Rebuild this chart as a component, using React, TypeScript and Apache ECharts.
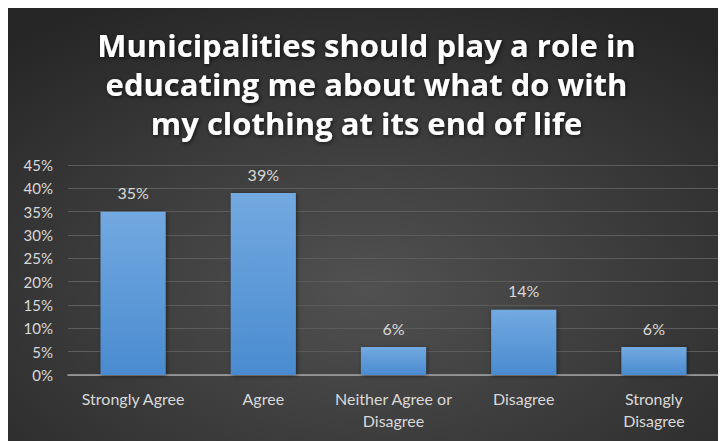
import React, { useEffect, useRef } from "react";
import * as echarts from "echarts";

const titleText = "Municipalities should play a role in\neducating me about what do with\nmy clothing at its end of life";
const categories = ["Strongly Agree", "Agree", "Neither Agree or\nDisagree", "Disagree", "Strongly\nDisagree"];
const values = [0.35, 0.39, 0.06, 0.14, 0.06];
const yMin = 0;
const yMax = 0.45;
const yStep = 0.05;

const FONT = "Lato, 'Open Sans', sans-serif";
const TITLE_FONT = "'Open Sans', Lato, sans-serif";

export default function App() {
  const ref = useRef<HTMLDivElement>(null);
  useEffect(() => {
    if (!ref.current) return;
    const chart = echarts.init(ref.current, null, { renderer: "svg" });
    chart.setOption({
      animation: false,
      backgroundColor: {
        type: "radial",
        x: 0.5,
        y: 0.65,
        r: 0.75,
        colorStops: [
          { offset: 0, color: "#515151" },
          { offset: 1, color: "#262626" },
        ],
      },
      title: {
        text: titleText,
        left: "center",
        top: 13,
        textStyle: {
          color: "#ffffff",
          fontFamily: TITLE_FONT,
          fontWeight: "bold",
          fontSize: 31,
          lineHeight: 39,
          textShadowColor: "rgba(0,0,0,0.7)",
          textShadowBlur: 4,
          textShadowOffsetX: 1,
          textShadowOffsetY: 1,
        },
      },
      grid: { left: 61, right: 7, top: 158, bottom: 66, containLabel: false },
      xAxis: {
        type: "category",
        data: categories,
        axisLine: { show: true, lineStyle: { color: "#a6a6a6", width: 1.5 } },
        axisTick: { show: false },
        axisLabel: {
          color: "#d9d9d9",
          fontFamily: FONT,
          fontSize: 16,
          lineHeight: 22,
          margin: 12,
          interval: 0,
        },
      },
      yAxis: {
        type: "value",
        min: yMin,
        max: yMax,
        interval: yStep,
        axisLine: { show: false },
        axisTick: { show: false },
        splitLine: { lineStyle: { color: "#5c5c5c", width: 1 } },
        axisLabel: {
          color: "#d9d9d9",
          fontFamily: FONT,
          fontSize: 15,
          margin: 15,
          formatter: (v: number) => Math.round(v * 100) + "%",
        },
      },
      series: [
        {
          type: "bar",
          data: values,
          barWidth: "50%",
          itemStyle: {
            color: {
              type: "linear",
              x: 0,
              y: 0,
              x2: 0,
              y2: 1,
              colorStops: [
                { offset: 0, color: "#72a9e0" },
                { offset: 1, color: "#4a8bd0" },
              ],
            },
            shadowColor: "rgba(0,0,0,0.5)",
            shadowBlur: 4,
            shadowOffsetX: 1,
            shadowOffsetY: 1,
          },
          label: {
            show: true,
            position: "top",
            distance: 11,
            color: "#d9d9d9",
            fontFamily: FONT,
            fontSize: 16,
            formatter: (p: any) => Math.round(p.value * 100) + "%",
          },
        },
      ],
    });
    return () => chart.dispose();
  }, []);
  return (
    <div
      ref={ref}
      style={{ width: 719, height: 434, marginLeft: -1, marginTop: -1 }}
    />
  );
}
